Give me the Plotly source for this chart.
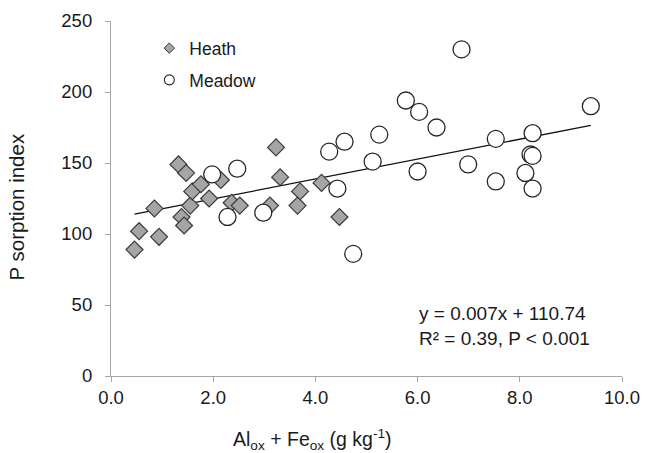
import plotly.graph_objects as go

# Heath samples
heath_x = [0.46, 0.55, 0.94, 0.85, 1.32, 1.47, 1.38, 1.43, 1.55, 1.59, 1.76,
           1.92, 2.15, 2.36, 2.52, 3.11, 3.23, 3.31, 3.70, 3.65, 4.12, 4.47]
heath_y = [89, 102, 98, 118, 149, 143, 112, 106, 120, 130, 135,
           125, 138, 122, 120, 120, 161, 140, 130, 120, 136, 112]

# Meadow samples
meadow_x = [1.98, 2.47, 2.28, 2.98, 4.27, 4.57, 4.43, 4.74, 5.25, 5.12, 5.77, 6.03,
            6.37, 6.00, 6.99, 6.86, 9.39, 7.53, 8.25, 8.21, 8.25, 7.53, 8.11, 8.25]
meadow_y = [142, 146, 112, 115, 158, 165, 132, 86, 170, 151, 194, 186,
            175, 144, 149, 230, 190, 167, 171, 156, 155, 137, 143, 132]

# Regression (y = 0.007x + 110.74 with x in mg/kg -> 7.0 per g/kg)
trend_slope = 7.0
trend_intercept = 110.74

x_ticks = [0, 2, 4, 6, 8, 10]
y_ticks = [0, 50, 100, 150, 200, 250]

all_x = heath_x + meadow_x
x0, x1 = min(all_x), max(all_x)

FONT = "Liberation Sans, Arial, sans-serif"
TXT = "#1a1a1a"
AX = "#a6a6a6"

fig = go.Figure()

fig.add_trace(go.Scatter(
    x=[x0, x1], y=[trend_slope * x0 + trend_intercept, trend_slope * x1 + trend_intercept],
    mode="lines", line=dict(color="#111111", width=1.3), showlegend=False, hoverinfo="skip"))

fig.add_trace(go.Scatter(
    x=heath_x, y=heath_y, mode="markers", showlegend=False,
    marker=dict(symbol="diamond", size=13, color="#a5a5a5",
                line=dict(color="#3a3a3a", width=1.2))))

fig.add_trace(go.Scatter(
    x=meadow_x, y=meadow_y, mode="markers", showlegend=False,
    marker=dict(symbol="circle", size=17, color="white",
                line=dict(color="#262626", width=1.3))))

# legend entries (small symbols like the reference)
fig.add_trace(go.Scatter(
    x=[None], y=[None], mode="markers", name="Heath", legendgroup="h",
    marker=dict(symbol="diamond", size=8, color="#a5a5a5",
                line=dict(color="#3a3a3a", width=1))))
fig.add_trace(go.Scatter(
    x=[None], y=[None], mode="markers", name="Meadow", legendgroup="m",
    marker=dict(symbol="circle", size=10, color="white",
                line=dict(color="#262626", width=1.1))))

fig.update_layout(
    width=645, height=453,
    margin=dict(l=111, r=23, t=21, b=77, autoexpand=False),
    paper_bgcolor="white", plot_bgcolor="white",
    font=dict(family=FONT, size=18, color=TXT),
    legend=dict(x=0.075, y=0.974, xanchor="left", yanchor="top",
                bgcolor="rgba(0,0,0,0)", font=dict(size=17.5, color=TXT),
                tracegroupgap=6, itemwidth=30),
    xaxis=dict(range=[0, 10], tickvals=x_ticks, tickformat=".1f",
               showgrid=False, zeroline=False, showline=True, linecolor=AX, linewidth=1.2,
               ticks="outside", ticklen=5, tickcolor=AX, tickwidth=1.2,
               ticklabeloverflow="allow",
               tickfont=dict(size=18.5, color=TXT)),
    yaxis=dict(range=[0, 250], tickvals=y_ticks,
               showgrid=False, zeroline=False, showline=True, linecolor=AX, linewidth=1.2,
               ticks="outside", ticklen=5, tickcolor=AX, tickwidth=1.2,
               ticklabelstandoff=9,
               tickfont=dict(size=18.5, color=TXT)),
    annotations=[
        dict(text="Al<sub>ox</sub> + Fe<sub>ox</sub> (g kg<sup>-1</sup>)",
             xref="paper", yref="paper", x=0.395, y=-0.135, xanchor="center", yanchor="top",
             showarrow=False, font=dict(size=19.5, color=TXT)),
        dict(text="P sorption index", xref="paper", yref="paper",
             x=-0.185, y=0.476, xanchor="center", yanchor="middle", textangle=-90,
             showarrow=False, font=dict(size=20.5, color=TXT)),
        dict(text="y = 0.007x + 110.74<br>R² = 0.39, P < 0.001",
             xref="paper", yref="paper", x=0.599, y=0.212, xanchor="left", yanchor="top",
             align="left", showarrow=False, font=dict(size=19, color=TXT)),
    ],
)

fig.write_html("out.html", config={"displayModeBar": False},
               post_script="document.body.style.margin='0px';")
